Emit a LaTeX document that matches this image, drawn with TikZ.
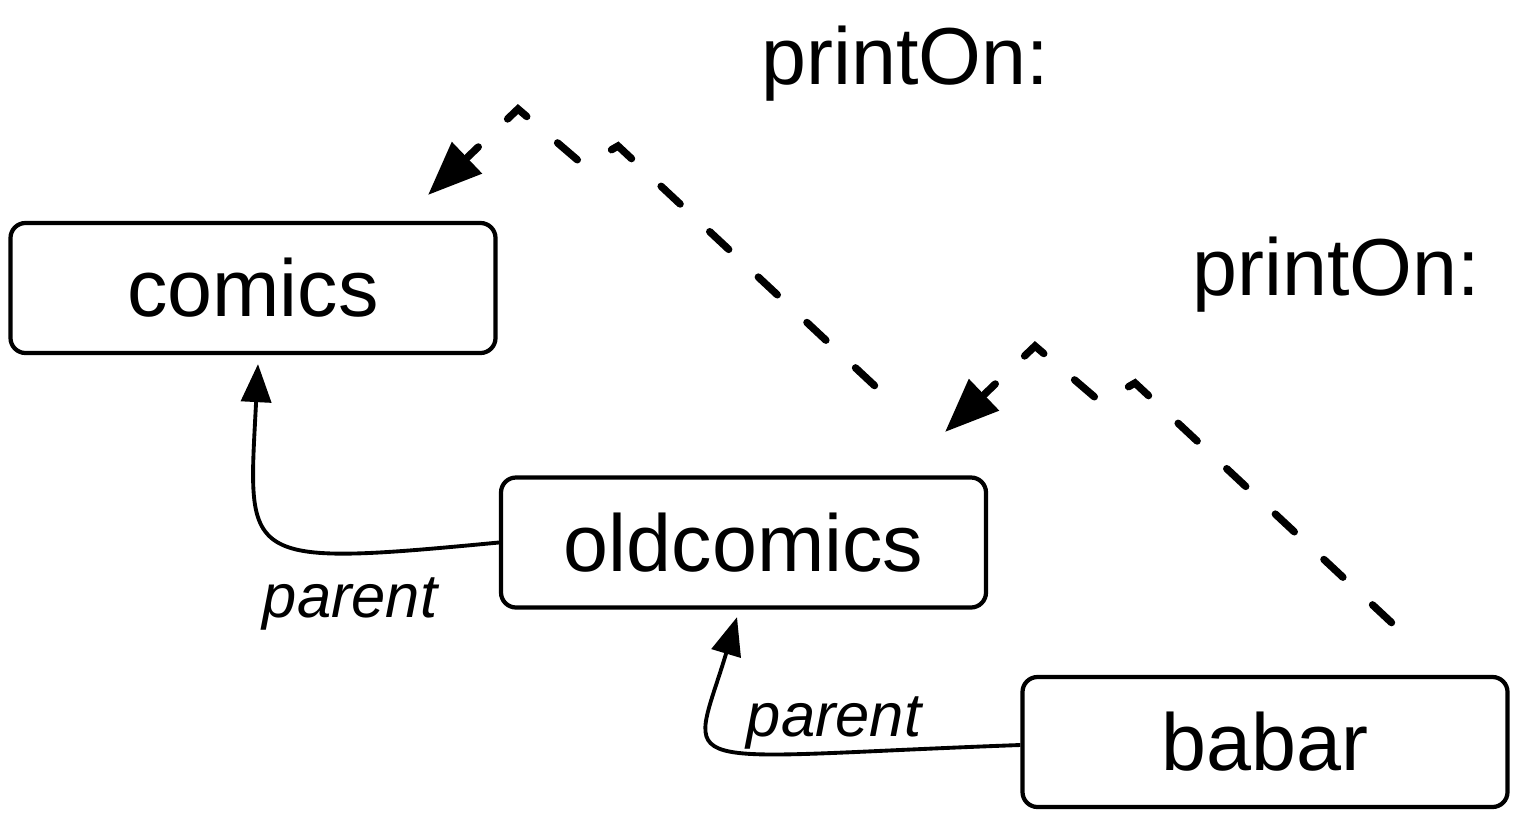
\documentclass[tikz,border=0pt]{standalone}
\usepackage{fontspec}
\setmainfont{Liberation Sans}
\usepackage{tikz}
\usetikzlibrary{arrows.meta,positioning}

\begin{document}
\begin{tikzpicture}[>=Latex,
    obj/.style={draw,rounded corners=0.15cm,line width=1.2pt,minimum width=4.85cm,minimum height=1.3cm,
      font=\fontsize{23}{28}\selectfont},
    selector/.style={anchor=base,font=\fontsize{23}{28}\selectfont},
    role/.style={anchor=base,font=\fontsize{17.5}{21}\selectfont\itshape},
    parentlink/.style={-{Triangle[length=3.8mm,width=3mm]},line width=1.1pt},
    lookup/.style={-{Triangle[length=5.4mm,width=4.2mm]},line width=2.1pt,line cap=round,
      dash pattern=on 0.26cm off 0.405cm}]
  \useasboundingbox (0,0) rectangle (15.16,8.16);

  % objects
  \node[obj] (comics) at (2.53,5.28) {comics};
  \node[obj] (oldcomics) at (7.435,2.735) {oldcomics};
  \node[obj] (babar) at (12.65,0.74) {babar};

  % parent links
  \draw[parentlink] (oldcomics.west) .. controls +(-2.62,-0.25) and +(-0.10,-1.98) .. ([shift={(0.05,-0.09)}]comics.south);
  \draw[parentlink] ([yshift=-0.03cm]babar.west) .. controls +(-3.60,-0.13) and +(-0.48,-1.60) .. ([shift={(-0.065,-0.075)}]oldcomics.south);
  \node[role] (parent1) at (3.50,1.99) {parent};
  \node[role] (parent2) at (8.34,0.795) {parent};

  % message lookup
  \coordinate (look1from) at (8.745,4.304);
  \coordinate (look1to) at (4.28,6.21);
  \coordinate (look2from) at (13.915,1.934);
  \coordinate (look2to) at (9.45,3.84);
  \draw[lookup] (look1from) -- ++(-2.565,2.396) -- ++(-0.34,-0.195) -- ++(-0.66,0.565) -- (look1to);
  \draw[lookup] (look2from) -- ++(-2.565,2.396) -- ++(-0.34,-0.195) -- ++(-0.66,0.565) -- (look2to);
  \node[selector] (sel1) at (9.055,7.32) {printOn:};
  \node[selector] (sel2) at (13.365,5.21) {printOn:};
\end{tikzpicture}
\end{document}
